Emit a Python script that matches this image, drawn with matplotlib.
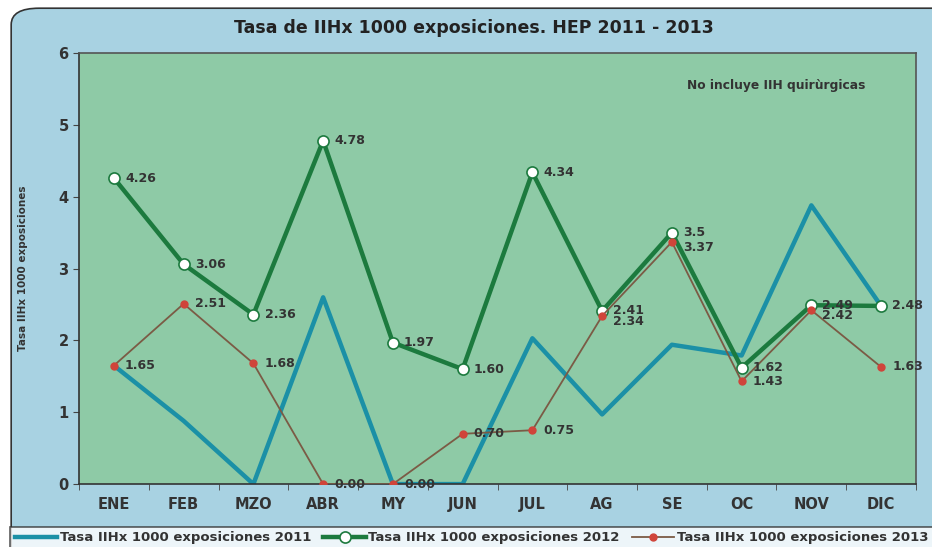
import matplotlib

matplotlib.use("Agg")
import matplotlib.pyplot as plt
from matplotlib.patches import FancyBboxPatch

plt.rcParams["font.family"] = ["DejaVu Sans"]

months = ["ENE", "FEB", "MZO", "ABR", "MY", "JUN", "JUL", "AG", "SE", "OC", "NOV", "DIC"]
rate_2011 = [1.65, 0.88, 0.0, 2.60, 0.0, 0.0, 2.03, 0.97, 1.94, 1.79, 3.88, 2.48]
rate_2012 = [4.26, 3.06, 2.36, 4.78, 1.97, 1.60, 4.34, 2.41, 3.5, 1.62, 2.49, 2.48]
rate_2013 = [1.65, 2.51, 1.68, 0.0, 0.0, 0.70, 0.75, 2.34, 3.37, 1.43, 2.42, 1.63]
labels_2012 = ["4.26", "3.06", "2.36", "4.78", "1.97", "1.60", "4.34", "2.41", "3.5", "1.62", "2.49", "2.48"]
labels_2013 = ["1.65", "2.51", "1.68", "0.00", "0.00", "0.70", "0.75", "2.34", "3.37", "1.43", "2.42", "1.63"]

bg_blue = "#a8d2e2"
plot_green = "#8ecaa6"
teal = "#1b90a6"
dark_green = "#1c7a3e"
brown = "#7b5b45"
red = "#d0443a"
text_col = "#333333"

fig = plt.figure(figsize=(9.32, 5.47), dpi=100, facecolor="white")
frame = FancyBboxPatch((0.012, -0.1), 1.1, 1.085, boxstyle="round,pad=0,rounding_size=0.03",
                       transform=fig.transFigure, facecolor=bg_blue, edgecolor="#333333",
                       linewidth=1.2, zorder=-10)
fig.patches.append(frame)

ax = fig.add_axes([0.0848, 0.115, 0.898, 0.788])
ax.set_facecolor(plot_green)
x = list(range(len(months)))

ax.plot(x, rate_2011, color=teal, linewidth=3.2, label="Tasa IIHx 1000 exposiciones 2011", zorder=2)
ax.plot(x, rate_2012, color=dark_green, linewidth=3.2, marker="o", markersize=8,
        markerfacecolor="white", markeredgecolor=dark_green, markeredgewidth=1.2,
        label="Tasa IIHx 1000 exposiciones 2012", zorder=3)
ax.plot(x, rate_2013, color=brown, linewidth=1.3, marker="o", markersize=5,
        markerfacecolor=red, markeredgecolor=red,
        label="Tasa IIHx 1000 exposiciones 2013", zorder=4)

for i, (v, s) in enumerate(zip(rate_2012, labels_2012)):
    ax.annotate(s, (i, v), xytext=(8, 0), textcoords="offset points", va="center",
                fontsize=9, fontweight="bold", color=text_col, zorder=5)
for i, (v, s) in enumerate(zip(rate_2013, labels_2013)):
    dy = -4 if s in ("2.34", "3.37", "2.42") else 0
    ax.annotate(s, (i, v), xytext=(8, dy), textcoords="offset points", va="center",
                fontsize=9, fontweight="bold", color=text_col, zorder=5)

ax.set_xlim(-0.5, len(months) - 0.5)
ax.set_ylim(0, 6)
ax.set_yticks(range(0, 7))
ax.set_xticks(x)
ax.set_xticklabels(months, fontsize=10.5, fontweight="bold", color=text_col)
ax.set_xticks([i + 0.5 for i in range(-1, len(months))], minor=True)
ax.tick_params(axis="x", which="major", length=0, pad=9)
ax.tick_params(axis="x", which="minor", length=4, direction="out", color="#444444")
ax.tick_params(axis="y", length=4, direction="out", labelsize=10.5, color="#444444", labelcolor=text_col)
for lbl in ax.get_yticklabels():
    lbl.set_fontweight("bold")
for side in ["top", "right"]:
    ax.spines[side].set_color("#555555")
    ax.spines[side].set_linewidth(1.2)
for side in ["left", "bottom"]:
    ax.spines[side].set_color("#333333")
    ax.spines[side].set_linewidth(1.2)

ax.set_ylabel("Tasa IIHx 1000 exposiciones", fontsize=7.5, fontweight="bold", color=text_col, labelpad=22)
ax.text(0.94, 0.925, "No incluye IIH quirùrgicas", transform=ax.transAxes, ha="right", va="center",
        fontsize=8.8, fontweight="bold", color=text_col)

fig.suptitle("Tasa de IIHx 1000 exposiciones. HEP 2011 - 2013", x=0.508, y=0.965,
             fontsize=12.5, fontweight="bold", color="#222222")

leg = fig.legend(loc="upper left", bbox_to_anchor=(0.011, 0.0, 0.99, 0.037), mode="expand", ncol=3,
                 fontsize=9.5, frameon=True, fancybox=False, edgecolor="#333333", handlelength=3.2,
                 borderpad=0.35, handletextpad=0.2, borderaxespad=0)
leg.get_frame().set_linewidth(1.2)
for t in leg.get_texts():
    t.set_fontweight("bold")
    t.set_color(text_col)

fig.savefig("out.png", dpi=100, facecolor=fig.get_facecolor())
